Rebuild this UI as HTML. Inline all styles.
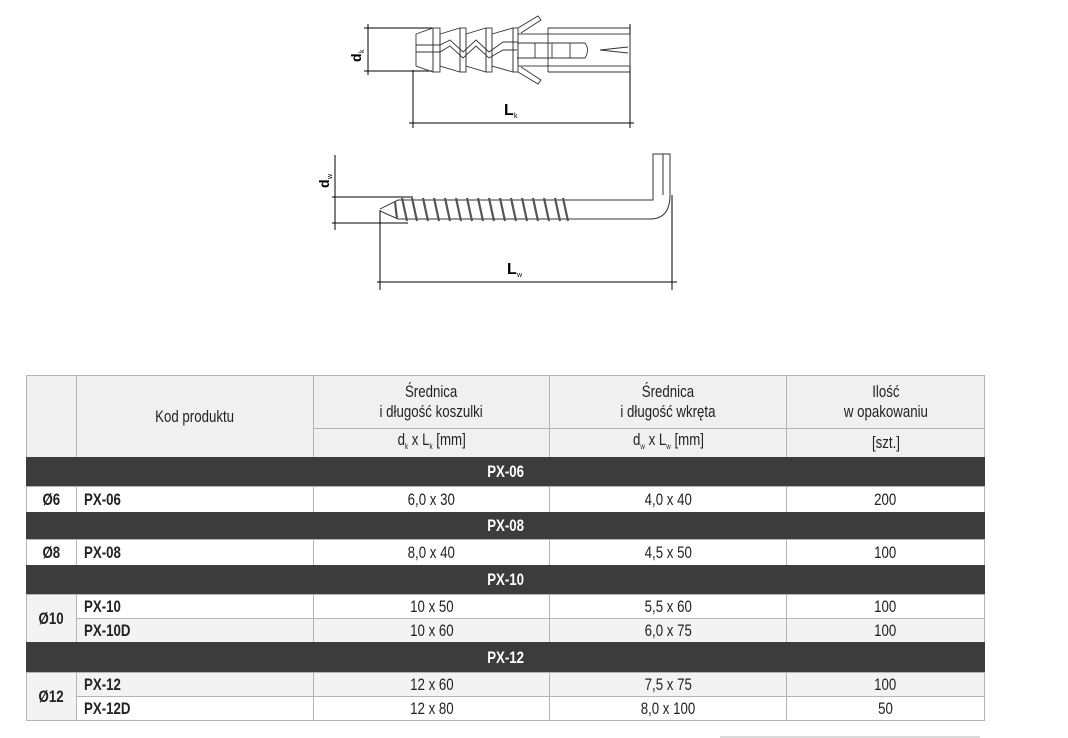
<!DOCTYPE html>
<html><head><meta charset="utf-8"><style>
*{margin:0;padding:0;box-sizing:border-box}
body{width:1068px;height:738px;background:#fff;position:relative;overflow:hidden;font-family:"Liberation Sans Narrow","Liberation Sans",sans-serif;color:#222}
svg{position:absolute;left:0;top:0}
.c{position:absolute;border:1px solid #b4b4b4;display:flex;align-items:center;justify-content:center;font-size:17px;text-align:center;line-height:20px}
.c span{display:inline-block;transform:scaleX(.78);white-space:nowrap}
.l span{transform-origin:left center}
.d{background:#3c3c3c;color:#fff;font-weight:bold;border-color:#3c3c3c}
.g{background:#f3f3f3}
.h{background:#f0f0f0}
.l{justify-content:flex-start;padding-left:7px;font-weight:bold}
sub{font-size:8px;vertical-align:-4px}
</style></head><body>
<svg width="1068" height="738" viewBox="0 0 1068 738" fill="none" stroke="#000" stroke-width="1">
<line x1="368" y1="24" x2="368" y2="75"/>
<line x1="364" y1="28" x2="432" y2="28"/>
<line x1="364" y1="71" x2="432" y2="71"/>
<line x1="413" y1="70" x2="413" y2="128"/>
<line x1="630" y1="24" x2="630" y2="128"/>
<line x1="409" y1="123" x2="634" y2="123"/>
<g transform="rotate(-90 356 56)"><text x="350" y="61" font-family="Liberation Sans" font-weight="bold" font-size="14" fill="#000" stroke="none">d</text><text x="359" y="64" font-family="Liberation Sans" font-size="7" fill="#000" stroke="none">k</text></g>
<text x="504" y="115" font-family="Liberation Sans" font-weight="bold" font-size="16" fill="#000" stroke="none">L</text>
<text x="514" y="118" font-family="Liberation Sans" font-size="7" fill="#000" stroke="none">k</text>
<g stroke="#333" stroke-width="0.9">
<path d="M416 34 L433 28 L433 72 L416 66 Z"/>
<rect x="433" y="28" width="7" height="44"/>
<path d="M440 34 L460 28 L460 72 L440 66Z"/><rect x="460" y="28" width="6" height="44"/>
<path d="M466 34 L486 28 L486 72 L466 66Z"/><rect x="486" y="28" width="6" height="44"/>
<path d="M492 34 L513 28 L513 72 L492 66Z"/><rect x="513" y="28" width="5" height="44"/>
<path d="M518 28 L538 16 L541 20 L521 33"/>
<path d="M518 72 L538 84 L541 80 L521 67"/>
<rect x="518" y="34" width="112" height="32"/>
<line x1="548" y1="28" x2="630" y2="28"/><line x1="548" y1="72" x2="630" y2="72"/>
<line x1="548" y1="28" x2="548" y2="72"/>
<path d="M517 43 L585 43 Q590 50 585 58 L517 58"/>
<line x1="535" y1="43" x2="535" y2="58"/><line x1="552" y1="43" x2="552" y2="58"/><line x1="570" y1="43" x2="570" y2="58"/>
<path d="M416 45 L440 45 L450 40 L463 52 L476 40 L489 52 L503 42 L517 42"/>
<path d="M416 52 L440 52 L450 46 L463 58 L476 46 L489 58 L503 50 L517 50"/>
<path d="M600 50 L628 47 M600 50 L628 53"/>
</g>
<line x1="335" y1="155" x2="335" y2="230"/>
<line x1="332" y1="197" x2="413" y2="197"/>
<line x1="332" y1="223" x2="408" y2="223"/>
<line x1="380" y1="210" x2="380" y2="290"/>
<line x1="672" y1="195" x2="672" y2="290"/>
<line x1="377" y1="282" x2="677" y2="282"/>
<g transform="rotate(-90 324 182)"><text x="318" y="187" font-family="Liberation Sans" font-weight="bold" font-size="14" fill="#000" stroke="none">d</text><text x="327" y="190" font-family="Liberation Sans" font-size="7" fill="#000" stroke="none">w</text></g>
<text x="507" y="274" font-family="Liberation Sans" font-weight="bold" font-size="16" fill="#000" stroke="none">L</text>
<text x="517" y="277" font-family="Liberation Sans" font-size="7" fill="#000" stroke="none">w</text>
<path d="M380 209 L398 200 L653 200 L653 154 L663 154 L663 195" stroke="#333"/>
<path d="M663 154 L670 154 L670 195 Q670 219 650 219 L398 219 L380 211" stroke="#333"/>
<g stroke="#555" stroke-width="2.2">
<line x1="395" y1="202" x2="397" y2="219"/>
<line x1="402" y1="198" x2="407" y2="221"/><line x1="412" y1="198" x2="417" y2="221"/>
<line x1="423" y1="198" x2="428" y2="221"/><line x1="434" y1="198" x2="439" y2="221"/>
<line x1="445" y1="198" x2="450" y2="221"/><line x1="456" y1="198" x2="461" y2="221"/>
<line x1="467" y1="198" x2="472" y2="221"/><line x1="478" y1="198" x2="483" y2="221"/>
<line x1="489" y1="198" x2="494" y2="221"/><line x1="500" y1="198" x2="505" y2="221"/>
<line x1="511" y1="198" x2="516" y2="221"/><line x1="522" y1="198" x2="527" y2="221"/>
<line x1="533" y1="198" x2="538" y2="221"/><line x1="544" y1="198" x2="549" y2="221"/>
<line x1="555" y1="198" x2="560" y2="221"/><line x1="563" y1="198" x2="568" y2="221"/>
</g>
<line x1="720" y1="737" x2="980" y2="737" stroke="#b4b4b4"/>
</svg>

<div class="c h" style="left:26px;top:375px;width:51px;height:83px"></div>
<div class="c h" style="left:76px;top:375px;width:238px;height:83px"><span>Kod produktu</span></div>
<div class="c h" style="left:313px;top:375px;width:237px;height:54px"><span>Średnica<br>i długość koszulki</span></div>
<div class="c h" style="left:549px;top:375px;width:238px;height:54px"><span>Średnica<br>i długość wkręta</span></div>
<div class="c h" style="left:786px;top:375px;width:199px;height:54px"><span>Ilość<br>w opakowaniu</span></div>
<div class="c h" style="left:313px;top:428px;width:237px;height:30px"><span>d<sub>k</sub>&nbsp;x L<sub>k</sub>&nbsp;[mm]</span></div>
<div class="c h" style="left:549px;top:428px;width:238px;height:30px"><span>d<sub>w</sub>&nbsp;x L<sub>w</sub>&nbsp;[mm]</span></div>
<div class="c h" style="left:786px;top:428px;width:199px;height:30px"><span>[szt.]</span></div>

<div class="c d" style="left:26px;top:457px;width:959px;height:30px"><span>PX-06</span></div>
<div class="c" style="left:26px;top:486px;width:51px;height:27px;font-weight:bold"><span>Ø6</span></div>
<div class="c l" style="left:76px;top:486px;width:238px;height:27px"><span>PX-06</span></div>
<div class="c" style="left:313px;top:486px;width:237px;height:27px"><span>6,0 x 30</span></div>
<div class="c" style="left:549px;top:486px;width:238px;height:27px"><span>4,0 x 40</span></div>
<div class="c" style="left:786px;top:486px;width:199px;height:27px"><span>200</span></div>

<div class="c d" style="left:26px;top:512px;width:959px;height:28px"><span>PX-08</span></div>
<div class="c" style="left:26px;top:539px;width:51px;height:27px;font-weight:bold"><span>Ø8</span></div>
<div class="c l" style="left:76px;top:539px;width:238px;height:27px"><span>PX-08</span></div>
<div class="c" style="left:313px;top:539px;width:237px;height:27px"><span>8,0 x 40</span></div>
<div class="c" style="left:549px;top:539px;width:238px;height:27px"><span>4,5 x 50</span></div>
<div class="c" style="left:786px;top:539px;width:199px;height:27px"><span>100</span></div>

<div class="c d" style="left:26px;top:565px;width:959px;height:30px"><span>PX-10</span></div>
<div class="c g" style="left:26px;top:594px;width:51px;height:49px;font-weight:bold"><span>Ø10</span></div>
<div class="c l" style="left:76px;top:594px;width:238px;height:25px"><span>PX-10</span></div>
<div class="c" style="left:313px;top:594px;width:237px;height:25px"><span>10 x 50</span></div>
<div class="c" style="left:549px;top:594px;width:238px;height:25px"><span>5,5 x 60</span></div>
<div class="c" style="left:786px;top:594px;width:199px;height:25px"><span>100</span></div>
<div class="c l g" style="left:76px;top:618px;width:238px;height:25px"><span>PX-10D</span></div>
<div class="c g" style="left:313px;top:618px;width:237px;height:25px"><span>10 x 60</span></div>
<div class="c g" style="left:549px;top:618px;width:238px;height:25px"><span>6,0 x 75</span></div>
<div class="c g" style="left:786px;top:618px;width:199px;height:25px"><span>100</span></div>

<div class="c d" style="left:26px;top:642px;width:959px;height:31px"><span>PX-12</span></div>
<div class="c g" style="left:26px;top:672px;width:51px;height:49px;font-weight:bold"><span>Ø12</span></div>
<div class="c l g" style="left:76px;top:672px;width:238px;height:25px"><span>PX-12</span></div>
<div class="c g" style="left:313px;top:672px;width:237px;height:25px"><span>12 x 60</span></div>
<div class="c g" style="left:549px;top:672px;width:238px;height:25px"><span>7,5 x 75</span></div>
<div class="c g" style="left:786px;top:672px;width:199px;height:25px"><span>100</span></div>
<div class="c l" style="left:76px;top:696px;width:238px;height:25px"><span>PX-12D</span></div>
<div class="c" style="left:313px;top:696px;width:237px;height:25px"><span>12 x 80</span></div>
<div class="c" style="left:549px;top:696px;width:238px;height:25px"><span>8,0 x 100</span></div>
<div class="c" style="left:786px;top:696px;width:199px;height:25px"><span>50</span></div>
</body></html>
